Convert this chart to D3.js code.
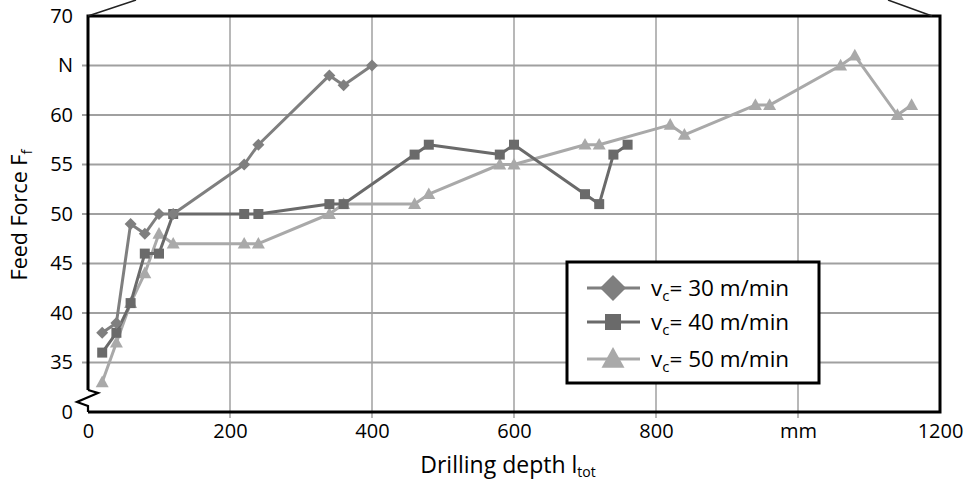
<!DOCTYPE html>
<html><head><meta charset="utf-8">
<script src="https://cdn.jsdelivr.net/npm/d3@7/dist/d3.min.js"></script>
<style>
html,body{margin:0;padding:0;background:#fff;}
svg{display:block;font-family:"Open Sans",Lato,sans-serif;}
</style></head>
<body><svg id="c" width="971" height="484"></svg>
<script>
// ---- data ----
const xTicks = [0, 200, 400, 600, 800, 1000, 1200];
const xTickLabels = ["0", "200", "400", "600", "800", "mm", "1200"];
const yTicks = [30, 35, 40, 45, 50, 55, 60, 65, 70];
const yTickLabels = ["0", "35", "40", "45", "50", "55", "60", "N", "70"];
const seriesNames = ["30", "40", "50"];
const depth30 = [20, 40, 60, 80, 100, 120, 220, 240, 340, 360, 400];
const force30 = [38, 39, 49, 48, 50, 50, 55, 57, 64, 63, 65];
const depth40 = [20, 40, 60, 80, 100, 120, 220, 240, 340, 360, 460, 480, 580, 600, 700, 720, 740, 760];
const force40 = [36, 38, 41, 46, 46, 50, 50, 50, 51, 51, 56, 57, 56, 57, 52, 51, 56, 57];
const depth50 = [20, 40, 60, 80, 100, 120, 220, 240, 340, 360, 460, 480, 580, 600, 700, 720, 820, 840, 940, 960, 1060, 1080, 1140, 1160];
const force50 = [33, 37, 41, 44, 48, 47, 47, 47, 50, 51, 51, 52, 55, 55, 57, 57, 59, 58, 61, 61, 65, 66, 60, 61];

const FONT = "'Open Sans', Lato, sans-serif";
const svg = d3.select("#c");
const L = 88, R = 940, T = 16, B = 412;
const x = d3.scaleLinear().domain([0, 1200]).range([L, R]);
const y = d3.scaleLinear().domain([30, 70]).range([B, T]);

// custom marker shapes (half-width w)
const diamond = w => `M0,${-w}L${w},0L0,${w}L${-w},0Z`;
const square = w => `M${-w},${-w}H${w}V${w}H${-w}Z`;
const triangle = w => `M0,${-w * 1.05}L${w},${w * 0.75}L${-w},${w * 0.75}Z`;

// gridlines
const gH = svg.append("g");
gH.selectAll("line").data(yTicks.filter(v => v > 30 && v < 70)).join("line")
  .attr("x1", L - 6).attr("x2", R).attr("y1", d => y(d)).attr("y2", d => y(d))
  .attr("stroke", "#a0a0a0").attr("stroke-width", 2);
const gV = svg.append("g");
gV.selectAll("line").data(xTicks.filter(v => v > 0 && v < 1200)).join("line")
  .attr("x1", d => x(d)).attr("x2", d => x(d)).attr("y1", T).attr("y2", B + 6)
  .attr("stroke", "#a0a0a0").attr("stroke-width", 1.5);

// axes labels via d3 axes
const yAxis = d3.axisLeft(y).tickValues(yTicks).tickSize(0).tickPadding(15)
  .tickFormat((d, i) => yTickLabels[i]);
const ya = svg.append("g").attr("transform", `translate(${L},0)`).call(yAxis);
ya.select(".domain").remove();
ya.selectAll("text").attr("font-size", 20).attr("font-family", FONT).attr("fill", "#000");

const xAxis = d3.axisBottom(x).tickValues(xTicks).tickSize(0).tickPadding(12)
  .tickFormat((d, i) => xTickLabels[i]);
const xa = svg.append("g").attr("transform", `translate(0,${B})`).call(xAxis);
xa.select(".domain").remove();
xa.selectAll("text").attr("font-size", 20).attr("font-family", FONT).attr("fill", "#000");

// frame
const frame = svg.append("g").attr("fill", "none").attr("stroke", "#000").attr("stroke-width", 3);
frame.append("path").attr("d", `M${L},390 L${L},${T} L${R},${T} L${R},${B} L${L},${B}`);
frame.append("path").attr("stroke-width", 2.2)
  .attr("d", `M${L},390 L98,393 L77,402 L${L},406 L${L},${B}`);
// zoom indicator lines
svg.append("line").attr("x1", L).attr("y1", T).attr("x2", 136).attr("y2", 0)
  .attr("stroke", "#222").attr("stroke-width", 1.5);
svg.append("line").attr("x1", 932).attr("y1", T).attr("x2", 888).attr("y2", 0)
  .attr("stroke", "#222").attr("stroke-width", 1.5);

// series
const series = [
  {xs: depth30, ys: force30, color: "#7f7f7f", shape: diamond, w: 6, lw: 13},
  {xs: depth40, ys: force40, color: "#6a6a6a", shape: square, w: 5, lw: 8},
  {xs: depth50, ys: force50, color: "#a9a9a9", shape: triangle, w: 6.5, lw: 11.5}
];
const line = d3.line().x(d => x(d[0])).y(d => y(d[1]));
[2, 1, 0].forEach(i => {
  const s = series[i];
  const pts = s.xs.map((v, j) => [v, s.ys[j]]);
  const g = svg.append("g");
  g.append("path").datum(pts).attr("d", line).attr("fill", "none")
    .attr("stroke", s.color).attr("stroke-width", 3).attr("stroke-linejoin", "round");
  g.selectAll("path.m").data(pts).join("path").attr("class", "m")
    .attr("transform", d => `translate(${x(d[0])},${y(d[1])})`)
    .attr("d", s.shape(s.w)).attr("fill", s.color);
});

// legend
const lg = svg.append("g");
lg.append("rect").attr("x", 567).attr("y", 262).attr("width", 252).attr("height", 121)
  .attr("fill", "#fff").attr("stroke", "#000").attr("stroke-width", 3);
const rowsY = [288, 322, 359];
seriesNames.forEach((n, i) => {
  const s = series[i];
  const yy = rowsY[i];
  lg.append("line").attr("x1", 587).attr("x2", 640).attr("y1", yy).attr("y2", yy)
    .attr("stroke", s.color).attr("stroke-width", 3);
  lg.append("path").attr("transform", `translate(613,${yy})`)
    .attr("d", s.shape(s.lw)).attr("fill", s.color);
  const t = lg.append("text").attr("x", 651).attr("y", yy + 8).attr("font-size", 22.5)
    .attr("fill", "#000").attr("font-family", FONT);
  t.append("tspan").text("v");
  t.append("tspan").attr("font-size", 15).attr("dy", 5).text("c");
  t.append("tspan").attr("dy", -5).text(`= ${n} m/min`);
});

// axis titles
const xt = svg.append("text").attr("x", 508).attr("y", 473).attr("text-anchor", "middle")
  .attr("font-size", 23).attr("fill", "#000").attr("font-family", FONT);
xt.append("tspan").text("Drilling depth l");
xt.append("tspan").attr("font-size", 14).attr("dy", 4).text("tot");

const yt = svg.append("text").attr("transform", "translate(27,215) rotate(-90)")
  .attr("text-anchor", "middle").attr("font-size", 21.5).attr("fill", "#000").attr("font-family", FONT);
yt.append("tspan").text("Feed Force F");
yt.append("tspan").attr("font-size", 15).attr("dy", 5).text("f");
</script></body></html>
